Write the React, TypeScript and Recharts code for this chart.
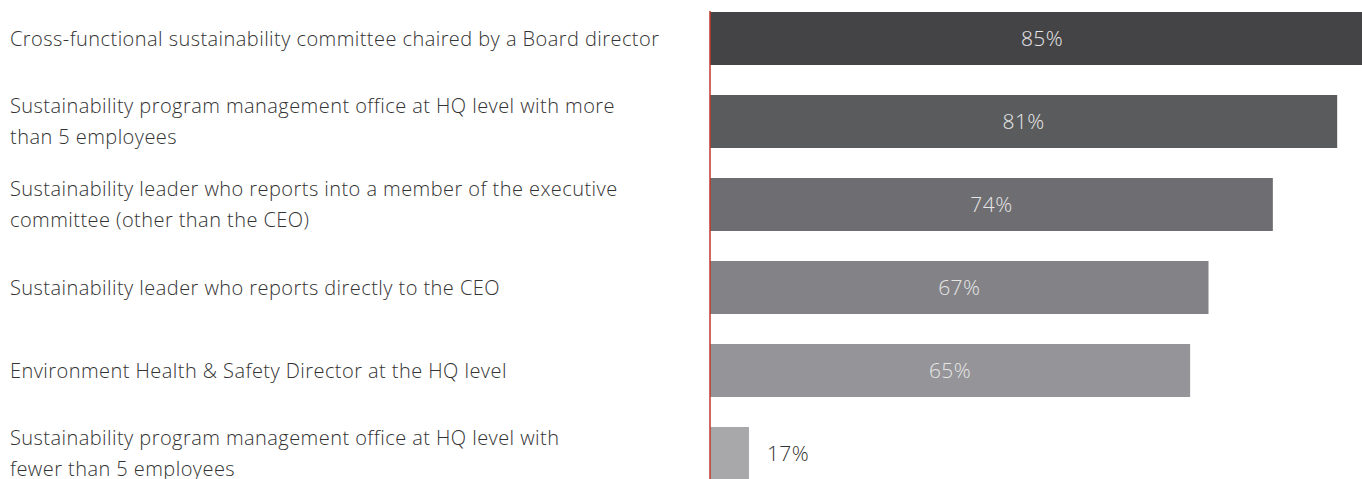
import React from "react";
import { Bar, BarChart, Cell, LabelList, XAxis, YAxis } from "recharts";

const categories = [
  "Cross-functional sustainability committee chaired by a Board director",
  "Sustainability program management office at HQ level with more\nthan 5 employees",
  "Sustainability leader who reports into a member of the executive\ncommittee (other than the CEO)",
  "Sustainability leader who reports directly to the CEO",
  "Environment Health & Safety Director at the HQ level",
  "Sustainability program management office at HQ level with\nfewer than 5 employees",
];
const shares = [85, 81, 74, 67, 65, 17];
const barColors = ["#444446", "#5a5b5d", "#6e6e72", "#838387", "#959599", "#a8a8ab"];

const data = categories.map((name, i) => ({ name, share: shares[i] }));

const FONT = "'Open Sans', Roboto, sans-serif";

function CategoryTick(props: any) {
  const { y, payload } = props;
  const lines = String(payload.value).split("\n");
  const lineHeight = 31;
  return (
    <g>
      {lines.map((line, i) => (
        <text
          key={i}
          x={10}
          y={y + (i - (lines.length - 1) / 2) * lineHeight}
          dy="0.36em"
          textAnchor="start"
          fill="#333333"
          fontSize={20}
          letterSpacing={0.44}
          fontFamily={FONT}
          fontWeight={300}
        >
          {line}
        </text>
      ))}
    </g>
  );
}

function ShareLabel(props: any) {
  const { x, y, width, height, value } = props;
  const inside = value >= 30;
  return (
    <text
      x={inside ? x + width / 2 : x + width + 18}
      y={y + height / 2}
      dy="0.36em"
      textAnchor={inside ? "middle" : "start"}
      fill={inside ? "#e6e6e6" : "#333333"}
      fontSize={21}
      letterSpacing={0.4}
      fontFamily={FONT}
      fontWeight={300}
    >
      {value}%
    </text>
  );
}

export default function App() {
  return (
    <div
      style={{
        position: "fixed",
        left: 0,
        top: 0,
        width: 1362,
        height: 479,
        overflow: "hidden",
        background: "#ffffff",
      }}
    >
      <BarChart
        width={1362}
        height={495}
        layout="vertical"
        data={data}
        margin={{ top: 11, right: 0, bottom: 0, left: 0 }}
      >
        <XAxis type="number" domain={[12.76, 83.7]} allowDataOverflow hide />
        <YAxis
          type="category"
          dataKey="name"
          width={710}
          padding={{ top: -14, bottom: 0 }}
          axisLine={{ stroke: "#c0392b", strokeWidth: 1.5 }}
          tickLine={false}
          tick={<CategoryTick />}
          interval={0}
        />
        <Bar dataKey="share" barSize={53} isAnimationActive={false}>
          {data.map((d, i) => (
            <Cell key={d.name} fill={barColors[i]} />
          ))}
          <LabelList dataKey="share" content={<ShareLabel />} />
        </Bar>
      </BarChart>
    </div>
  );
}
